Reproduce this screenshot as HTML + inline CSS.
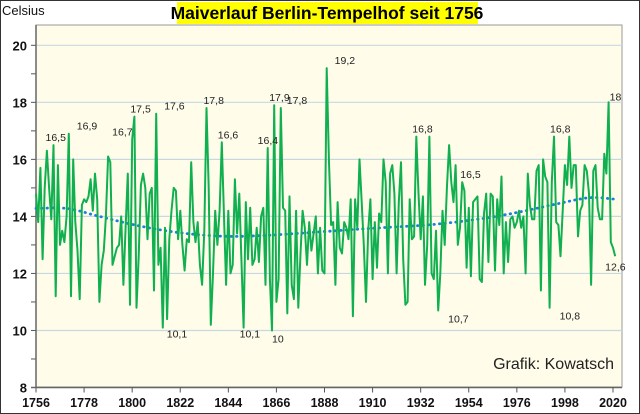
<!DOCTYPE html>
<html><head><meta charset="utf-8">
<style>
body{margin:0;background:#fff;}
svg{display:block;font-family:"Liberation Sans",Arial,sans-serif;}
</style></head>
<body>
<svg id="chart" width="640" height="414" viewBox="0 0 640 414">
<rect x="0.5" y="0.5" width="639" height="413" fill="#fff" stroke="#333"/>
<text x="2" y="15" font-size="13" fill="#111">Celsius</text>
<rect x="177" y="2" width="301" height="22" fill="#ffff00"/>
<text x="327" y="19" font-size="17.5" font-weight="bold" text-anchor="middle" fill="#000">Maiverlauf Berlin-Tempelhof seit 1756</text>
<rect x="36" y="25" width="586" height="362" fill="#fffdea" stroke="#999"/>
<g id="grid"></g><g id="axes"></g><g id="series"></g><g id="labels"></g>
<text x="614" y="369" font-size="16" text-anchor="end" fill="#222">Grafik: Kowatsch</text>
</svg>
<script>
const startYear = 1756;
const mayTemps = [
14.8,13.8,15.7,12.5,15.0,16.3,15.0,13.9,16.5,11.2,15.8,13.0,13.5,13.1,14.0,16.9,11.2,16.0,13.8,12.8,
11.1,14.4,14.6,14.5,14.7,15.3,14.2,15.5,14.6,11.0,12.3,12.8,14.0,16.1,15.9,12.3,12.6,12.9,13.0,14.0,
11.6,13.6,15.5,10.9,16.7,17.5,10.8,12.6,15.1,15.5,15.0,13.2,14.8,15.0,11.4,17.6,12.3,12.9,10.1,13.6,
10.4,13.2,14.2,15.0,14.9,13.2,14.2,13.0,12.1,13.2,13.1,15.9,13.8,13.1,13.8,12.3,11.6,13.5,17.8,15.0,
10.2,12.0,14.2,13.0,14.2,16.6,14.0,11.6,14.2,12.0,12.3,15.3,13.4,14.8,12.5,10.1,14.5,12.5,14.3,12.3,
12.5,13.6,12.4,14.0,14.3,11.6,16.4,11.8,10.0,17.9,11.0,11.8,17.8,14.3,14.2,10.6,14.7,11.6,11.1,14.2,
10.8,12.7,14.2,13.6,12.3,13.8,12.8,13.4,14.0,12.0,13.6,12.1,12.0,
19.2,16.0,13.7,13.8,11.6,14.5,12.9,12.7,13.8,13.6,13.2,14.6,10.5,14.6,13.6,16.0,14.5,13.0,11.0,13.5,
14.6,11.8,13.8,12.2,14.1,13.8,16.0,15.2,12.0,15.5,15.8,14.8,12.0,14.5,15.9,12.5,10.9,11.0,14.6,13.2,
13.3,16.8,14.8,13.2,
14.7,11.6,13.0,16.8,12.0,11.8,13.5,10.7,12.0,14.2,13.0,15.0,16.5,15.2,14.5,15.8,13.0,13.6,15.2,14.9,
12.2,14.3,11.9,14.5,14.6,14.7,11.8,11.7,14.1,14.8,12.4,14.8,14.7,12.1,14.6,13.7,15.4,12.0,13.8,12.4,
13.9,14.0,13.6,13.8,
14.2,13.6,14.0,12.0,15.5,14.4,13.9,13.9,15.6,15.8,11.4,16.0,15.4,15.2,10.8,15.2,16.8,13.8,13.7,12.6,14.2,15.8,
15.1,16.8,15.0,15.8,15.8,13.3,14.2,14.4,15.8,15.6,14.8,11.6,15.6,15.8,14.3,13.9,13.9,16.2,15.5,18.0,
13.1,12.9,12.6
];
const trendYears = [1756,1770,1785,1800,1815,1830,1845,1860,1875,1890,1905,1920,1935,1950,1965,1980,1995,2010,2022];
const trendValues = [14.28,14.28,14.0,13.72,13.5,13.36,13.3,13.33,13.4,13.48,13.56,13.63,13.7,13.82,13.98,14.2,14.45,14.66,14.6];
const yTicks = [8,10,12,14,16,18,20];
const xTickYears = [1756,1778,1800,1822,1844,1866,1888,1910,1932,1954,1976,1998,2020];
const annYears = [1764,1771,1800,1801,1811,1834,1841,1814,1851,1862,1865,1864,1868,1889,1930,1940,1946,1991,1993,2018,2021];
const annTexts = ["16,5","16,9","16,7","17,5","17,6","17,8","16,6","10,1","10,1","16,4","17,9","10","17,8","19,2","16,8","10,7","16,5","10,8","16,8","18","12,6"];
const annDx = [-8,8,-20,-4,8,-3,-4,4,-4,-10,-5,0,6,8,-4,10,9,10,-4,1,-10];
const annDy = [-4,-4,-4,-4,-4,-4,-4,10,10,-4,-4,12,-4,-4,-4,12,-4,12,-4,-2,14];

const NS="http://www.w3.org/2000/svg";
const X0=36, X1=613, Y0=387.5, Y1=45.3;
function xs(yr){return X0+(yr-1756)*(X1-X0)/(2020-1756);}
function ys(v){return Y0-(v-8)*(Y0-Y1)/12;}
function mk(tag,attrs,parent){const e=document.createElementNS(NS,tag);for(const k in attrs)e.setAttribute(k,attrs[k]);parent.appendChild(e);return e;}
const grid=document.getElementById('grid'), axes=document.getElementById('axes'), series=document.getElementById('series'), labels=document.getElementById('labels');

for(let v=8;v<=20;v++){
  const y=ys(v);
  const t=mk('line',{x1:31,x2:36,y1:y,y2:y,stroke:'#555'},axes);
  
  
}
yTicks.forEach(v=>{
  const y=ys(v);
  if(v>8){const g=mk('line',{x1:36,x2:622,y1:y,y2:y,stroke:'#c8d8e0','stroke-width':1.2},grid);
  
  }
  const t=mk('text',{x:27,y:y+5,'font-size':13,'font-weight':'bold','text-anchor':'end',fill:'#111'},axes);
  t.textContent=v;
  
  
});
const ax=mk('line',{x1:36,x2:36,y1:25,y2:388,stroke:'#666','stroke-width':1.5},axes);


const bx=mk('line',{x1:31,x2:622,y1:Y0,y2:Y0,stroke:'#666','stroke-width':1.5},axes);


xTickYears.forEach(yr=>{
  const x=xs(yr);
  const t=mk('line',{x1:x,x2:x,y1:Y0,y2:Y0+5,stroke:'#555'},axes);
  
  
  const l=mk('text',{x:x,y:407,'font-size':12.5,'font-weight':'bold','text-anchor':'middle',fill:'#111'},axes);
  l.textContent=yr;
  
  
});
let tp=[];
for(let yr=1756;yr<=2022;yr+=0.5){
  let i=0;while(i<trendYears.length-2&&yr>trendYears[i+1])i++;
  const p0=trendValues[Math.max(i-1,0)],p1=trendValues[i],p2=trendValues[i+1],p3=trendValues[Math.min(i+2,trendValues.length-1)];
  const t=(yr-trendYears[i])/(trendYears[i+1]-trendYears[i]);
  const v=0.5*((2*p1)+(-p0+p2)*t+(2*p0-5*p1+4*p2-p3)*t*t+(-p0+3*p1-3*p2+p3)*t*t*t);
  tp.push(xs(yr).toFixed(1)+','+ys(v).toFixed(1));
}
const tr=mk('polyline',{points:tp.join(' '),fill:'none',stroke:'#1a7ee0','stroke-width':2.8,'stroke-dasharray':'0.5 5','stroke-linecap':'round'},series);


const pts=mayTemps.map((v,i)=>xs(startYear+i).toFixed(1)+','+ys(v).toFixed(1));
const dl=mk('polyline',{points:pts.join(' '),fill:'none',stroke:'#10b050','stroke-width':2,'stroke-linejoin':'round'},series);


annYears.forEach((yr,i)=>{
  const idx=yr-startYear;const v=mayTemps[Math.min(idx,mayTemps.length-1)];
  const t=mk('text',{x:xs(yr)+annDx[i],y:ys(v)+annDy[i],'font-size':10.5,fill:'#222'},labels);
  t.textContent=annTexts[i];
  
  
});
</script>
</body></html>
